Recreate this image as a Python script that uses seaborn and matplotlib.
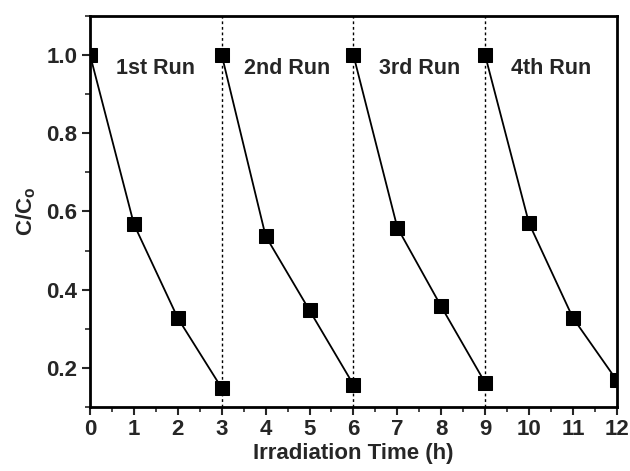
import numpy as np
import pandas as pd
import seaborn as sns
from matplotlib import pyplot as plt
from matplotlib.ticker import MultipleLocator

# data
runs = ["1st Run", "2nd Run", "3rd Run", "4th Run"]
time_h = [[0, 1, 2, 3], [3, 4, 5, 6], [6, 7, 8, 9], [9, 10, 11, 12]]
c_ratio = [[1.0, 0.567, 0.327, 0.148],
           [1.0, 0.537, 0.347, 0.157],
           [1.0, 0.559, 0.357, 0.162],
           [1.0, 0.570, 0.328, 0.168]]
run_breaks = [3, 6, 9]

sns.set_style("ticks")
plt.rcParams['font.family'] = ['Liberation Sans', 'DejaVu Sans']
plt.rcParams['font.weight'] = 'bold'
plt.rcParams['mathtext.fontset'] = 'custom'
plt.rcParams['mathtext.rm'] = 'Liberation Sans:bold'

fig = plt.figure(figsize=(6.3, 4.71), dpi=100)
ax = fig.add_axes([0.143, 0.136, 0.836, 0.830])

for name, t, c in zip(runs, time_h, c_ratio):
    df = pd.DataFrame({"t": t, "c": c})
    sns.lineplot(data=df, x="t", y="c", ax=ax, color="black", lw=1.3,
                 marker="s", markersize=9.5, markeredgecolor="black")
    ax.text(np.mean(t), 0.965, name, ha="center", va="center",
            fontsize=15.5, fontweight="bold")

for b in run_breaks:
    ax.axvline(b, color="black", ls=(0, (2, 2)), lw=1.0, zorder=0)

ax.set_xlim(0, 12)
ax.set_ylim(0.1, 1.1)
ax.xaxis.set_major_locator(MultipleLocator(1))
ax.xaxis.set_minor_locator(MultipleLocator(0.5))
ax.set_yticks([0.2, 0.4, 0.6, 0.8, 1.0])
ax.yaxis.set_minor_locator(MultipleLocator(0.1))
ax.tick_params(which="major", direction="out", length=6, width=1.5,
               labelsize=16, pad=3)
ax.tick_params(which="minor", direction="out", length=3.5, width=1.2)
for s in ax.spines.values():
    s.set_linewidth(2)
    s.set_color("black")

ax.set_xlabel("Irradiation Time (h)", fontsize=16, fontweight="bold", labelpad=2)
ax.set_ylabel(r"C/C$_\mathrm{o}$", fontsize=16, fontweight="bold", labelpad=6)
for lab in ax.get_xticklabels() + ax.get_yticklabels():
    lab.set_fontweight("bold")

fig.savefig("out.png", dpi=100)
